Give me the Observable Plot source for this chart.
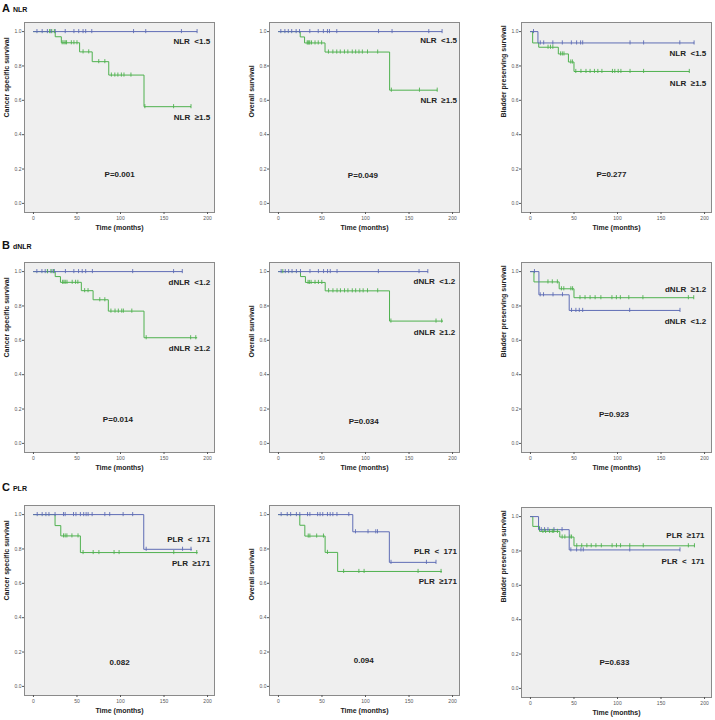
<!DOCTYPE html>
<html><head><meta charset="utf-8">
<script src="https://cdn.jsdelivr.net/npm/d3@7"></script>
<script src="https://cdn.jsdelivr.net/npm/@observablehq/plot@0.6"></script>
<style>
body{margin:0;background:#fff;}
#fig{position:relative;width:715px;height:720px;overflow:hidden;font-family:"Liberation Sans",Arial,sans-serif;}
#fig > svg{position:absolute;}
</style></head><body><div id="fig"></div>
<script>
// ---------- shared ticks / labels ----------
const xTicks = [0, 50, 100, 150, 200];
const yTicks = [0, 0.2, 0.4, 0.6, 0.8, 1.0];
const yTitles = ["Cancer specific survival", "Overall survival", "Bladder preserving survival"];
const xTitle = "Time (months)";
const sectionLetters = ["A", "B", "C"];
const sectionNames = ["NLR", "dNLR", "PLR"];

// ---------- A: NLR ----------
const a1LowT = [0, 188], a1LowS = [1, 1];
const a1LowC = [4, 10, 16, 20, 25, 36.5, 46.5, 52, 57, 60, 67, 115, 129, 170, 188];
const a1HighT = [0, 25, 32, 53, 67.5, 86.5, 127, 181], a1HighS = [1, 0.97, 0.935, 0.882, 0.825, 0.747, 0.563, 0.563];
const a1HighC = [18.5, 21, 24, 33, 35, 36.5, 38, 43.5, 46.5, 50, 57, 63.5, 75, 82, 89.5, 93.5, 97, 101, 104, 112, 128, 161, 181];

const a2LowT = [0, 188], a2LowS = [1, 1];
const a2LowC = [2.7, 7.4, 11.3, 15.2, 20.3, 24.2, 36, 45.7, 51.6, 56.3, 58.6, 67, 115, 130.5, 172.7, 188];
const a2HighT = [0, 25, 30, 53.5, 127.7, 182.4], a2HighS = [1, 0.969, 0.934, 0.881, 0.659, 0.659];
const a2HighC = [33, 34, 35, 36, 38, 42, 45.7, 49.6, 57.4, 62.5, 67, 71, 75.8, 79.7, 84.8, 88.7, 92.5, 96.4, 102.3, 114, 129.7, 162, 182.4];

const a3LowT = [0, 8.6, 188], a3LowS = [1, 0.934, 0.934];
const a3LowC = [3.5, 11.3, 15.2, 25.7, 36.6, 47, 53, 57.6, 60, 114.4, 130, 171.6, 188];
const a3HighT = [0, 2.5, 9.5, 32, 43.6, 50, 182.5], a3HighS = [1, 0.934, 0.909, 0.87, 0.823, 0.768, 0.768];
const a3HighC = [20.2, 23, 25.7, 34.6, 36.6, 38.5, 46.3, 48.2, 52.1, 58, 63.8, 68.5, 73.5, 77.4, 82.1, 94.2, 96.9, 100.8, 103.9, 114.4, 130, 182.5];

// ---------- B: dNLR ----------
const b1LowT = [0, 171], b1LowS = [1, 1];
const b1LowC = [3.9, 9.7, 13.5, 16.2, 21.3, 24, 36.7, 46.4, 51.8, 56, 60, 67.7, 114, 161, 171];
const b1HighT = [0, 25, 31, 55, 68.5, 86, 127, 188], b1HighS = [1, 0.971, 0.9375, 0.889, 0.836, 0.77, 0.615, 0.615];
const b1HighC = [16, 20, 23, 33.5, 35, 36.5, 38.5, 44.5, 48.4, 51, 58.8, 62.7, 76.2, 82, 89, 93.7, 97.5, 101.4, 103.3, 113, 129.5, 180.6, 186.5];

const b2LowT = [0, 171.6], b2LowS = [1, 1];
const b2LowC = [3.1, 7.8, 11.7, 15.6, 20.6, 25.3, 36.2, 45.9, 51.8, 56.4, 59.5, 67.3, 114.8, 161.5, 171.6];
const b2HighT = [0, 25.3, 31, 53.7, 127.6, 189], b2HighS = [1, 0.971, 0.937, 0.888, 0.712, 0.712];
const b2HighC = [5, 34, 35.5, 37.5, 42, 45.9, 49.8, 57.6, 62.6, 67.3, 71.2, 75.9, 79.8, 84.8, 88.7, 93.4, 97.3, 102.3, 114, 129.2, 181, 187.5];

const b3LowT = [0, 9.7, 44.5, 171.8], b3LowS = [1, 0.865, 0.774, 0.774];
const b3LowC = [4.6, 11.2, 15, 25.9, 36.8, 47.2, 52.2, 56.1, 60, 114, 171.8];
const b3HighT = [0, 4, 33, 50, 187.6], b3HighS = [1, 0.94, 0.9, 0.848, 0.848];
const b3HighC = [20.1, 25.1, 30.9, 35.6, 38.3, 46.4, 48.4, 56.9, 62.7, 68.5, 74.3, 80.9, 93.6, 98.7, 103.3, 113, 129.2, 181.4, 187.6];

// ---------- C: PLR ----------
const c1LowT = [0, 126.7, 181.8], c1LowS = [1, 0.798, 0.798];
const c1LowC = [4.3, 10, 14.3, 17.8, 24.8, 34.5, 36.4, 46, 48.8, 53.9, 57.7, 60.5, 62.8, 67.4, 82, 87.6, 103, 114, 129.5, 171.3, 181];
const c1HighT = [0, 24.8, 31.4, 53.9, 188.4], c1HighS = [1, 0.936, 0.876, 0.779, 0.779];
const c1HighC = [34.5, 36.4, 38.4, 44.2, 51.2, 57, 68.6, 75.2, 92.6, 98.4, 161.2, 187.6];

const c2LowT = [0, 85.4, 127.4, 181], c2LowS = [1, 0.9, 0.722, 0.722];
const c2LowC = [3.1, 10.1, 14, 20.6, 24.5, 33.4, 36.1, 45, 47.8, 50.9, 56.3, 59.4, 62.5, 67.2, 80.8, 88.5, 102.9, 111.8, 113.8, 129.3, 170, 181];
const c2HighT = [0, 24.5, 30.3, 53.6, 68, 187.6], c2HighS = [1, 0.938, 0.875, 0.78, 0.669, 0.669];
const c2HighC = [34.2, 36.1, 43.9, 51.7, 56.3, 74.9, 92.4, 98.4, 160.4, 186.8];

const c3LowT = [0, 9.3, 44.5, 171.8], c3LowS = [1, 0.924, 0.806, 0.806];
const c3LowC = [12.4, 16.2, 20.1, 27, 36.3, 46.4, 53, 58, 60.7, 114.1, 171.8];
const c3HighT = [0, 2.7, 10.4, 33.7, 50, 188.4], c3HighS = [1, 0.943, 0.914, 0.881, 0.83, 0.83];
const c3HighC = [14.3, 17.4, 22, 25.1, 26.7, 31, 36.4, 39.5, 45.3, 47.2, 53.2, 58.9, 64.8, 69.8, 75.2, 81.4, 93.8, 98.8, 103.5, 114.1, 129.6, 181.4, 188.4];

// ---------- annotations: [text, x, y] ----------
const a1Labels = [["NLR\u00a0\u00a0<1.5", 203, 0.941], ["NLR\u00a0\u00a0\u22651.5", 203, 0.5]];
const a2Labels = [["NLR\u00a0\u00a0<1.5", 205, 0.947], ["NLR\u00a0\u00a0\u22651.5", 205, 0.6]];
const a3Labels = [["NLR\u00a0\u00a0<1.5", 202, 0.872], ["NLR\u00a0\u00a0\u22651.5", 202, 0.7]];
const b1Labels = [["dNLR\u00a0\u00a0<1.2", 203, 0.935], ["dNLR\u00a0\u00a0\u22651.2", 203, 0.553]];
const b2Labels = [["dNLR\u00a0\u00a0<1.2", 203, 0.94], ["dNLR\u00a0\u00a0\u22651.2", 203, 0.647]];
const b3Labels = [["dNLR\u00a0\u00a0\u22651.2", 202, 0.895], ["dNLR\u00a0\u00a0<1.2", 202, 0.708]];
const c1Labels = [["PLR\u00a0\u00a0<\u00a0\u00a0171", 203, 0.855], ["PLR\u00a0\u00a0\u2265171", 203, 0.715]];
const c2Labels = [["PLR\u00a0\u00a0<\u00a0\u00a0171", 205, 0.785], ["PLR\u00a0\u00a0\u2265171", 205, 0.61]];
const c3Labels = [["PLR\u00a0\u00a0\u2265171", 200, 0.888], ["PLR\u00a0\u00a0<\u00a0\u00a0171", 200, 0.74]];
const pValues = [["P=0.001", 99, 0.17], ["P=0.049", 97, 0.165], ["P=0.277", 93, 0.17],
                 ["P=0.014", 97, 0.14], ["P=0.034", 98, 0.13], ["P=0.923", 96, 0.17],
                 ["0.082", 99, 0.14], ["0.094", 98, 0.15], ["P=0.633", 96.5, 0.15]];

// ---------- layout / style ----------
const BLUE = "#5f6db5", GREEN = "#4fb14f";
const ML = 30, MR = 4, MT = 4, MB = 28, FW = 190, FH = 190;
const colLeft = [24, 269, 521];
const rowTop = [22, 262, 505];
const sectionBaseline = [12, 249, 491];

const panels = [
  {low: [a1LowT, a1LowS, a1LowC], high: [a1HighT, a1HighS, a1HighC], labels: a1Labels},
  {low: [a2LowT, a2LowS, a2LowC], high: [a2HighT, a2HighS, a2HighC], labels: a2Labels},
  {low: [a3LowT, a3LowS, a3LowC], high: [a3HighT, a3HighS, a3HighC], labels: a3Labels},
  {low: [b1LowT, b1LowS, b1LowC], high: [b1HighT, b1HighS, b1HighC], labels: b1Labels},
  {low: [b2LowT, b2LowS, b2LowC], high: [b2HighT, b2HighS, b2HighC], labels: b2Labels},
  {low: [b3LowT, b3LowS, b3LowC], high: [b3HighT, b3HighS, b3HighC], labels: b3Labels},
  {low: [c1LowT, c1LowS, c1LowC], high: [c1HighT, c1HighS, c1HighC], labels: c1Labels},
  {low: [c2LowT, c2LowS, c2LowC], high: [c2HighT, c2HighS, c2HighC], labels: c2Labels},
  {low: [c3LowT, c3LowS, c3LowC], high: [c3HighT, c3HighS, c3HighC], labels: c3Labels}
];

function survAt(times, surv, t) {
  let s = surv[0];
  for (let i = 0; i < times.length; i++) if (times[i] <= t) s = surv[i];
  return s;
}

const fig = document.getElementById("fig");
const font = "Liberation Sans, Arial, sans-serif";

panels.forEach((p, idx) => {
  const row = Math.floor(idx / 3), col = idx % 3;
  const lines = [], cens = [];
  [["low", p.low], ["high", p.high]].forEach(([key, [T, S, C]]) => {
    T.forEach((t, i) => lines.push({x: t, y: S[i], g: key}));
    C.forEach(t => cens.push({x: t, y: survAt(T, S, t), g: key}));
  });
  const labs = p.labels.map(([text, x, y]) => ({text, x, y}));
  const pv = pValues[idx];
  const chart = Plot.plot({
    width: ML + FW + MR, height: MT + FH + MB,
    marginLeft: ML, marginRight: MR, marginTop: MT, marginBottom: MB,
    style: {fontFamily: font, background: "transparent", overflow: "visible"},
    x: {domain: [-10.3, 208]},
    y: {domain: [-0.053, 1.053]},
    color: {type: "ordinal", domain: ["low", "high"], range: [BLUE, GREEN]},
    marks: [
      Plot.frame({fill: "#efefef", stroke: "#8a8a8a"}),
      Plot.axisX({ticks: xTicks, tickSize: 2, tickPadding: 2, fontSize: 5, color: "#555", label: null}),
      Plot.axisY({ticks: yTicks, tickSize: 2, tickPadding: 1, fontSize: 5, color: "#555", tickFormat: d3.format(".1f"), label: null}),
      Plot.line(lines.filter(d => d.g === "high"), {x: "x", y: "y", stroke: "g", curve: "step-after", strokeWidth: 1}),
      Plot.line(lines.filter(d => d.g === "low"), {x: "x", y: "y", stroke: "g", curve: "step-after", strokeWidth: 1}),
      Plot.ruleX(cens, {x: "x", y1: d => d.y - 0.012, y2: d => d.y + 0.012, stroke: "g", strokeWidth: 0.9}),
      Plot.text(labs, {x: "x", y: "y", text: "text", textAnchor: "end", fontWeight: "bold", fontSize: 8, fill: "#222"}),
      Plot.text([pv[0]], {x: () => pv[1], y: () => pv[2], text: d => d, fontWeight: "bold", fontSize: 8, fill: "#222"}),
      Plot.text([yTitles[col]], {frameAnchor: "left", text: d => d, rotate: -90, dx: -18, fontWeight: "bold", fontSize: 7, fill: "#222"}),
      Plot.text([xTitle], {frameAnchor: "bottom", text: d => d, dy: 17, fontWeight: "bold", fontSize: 7, fill: "#222"})
    ]
  });
  chart.style.left = (colLeft[col] - ML) + "px";
  chart.style.top = (rowTop[row] - MT + (idx === 8 ? 2 : 0)) + "px";
  fig.appendChild(chart);
});

// section headers
const ns = "http://www.w3.org/2000/svg";
const hdr = document.createElementNS(ns, "svg");
hdr.setAttribute("width", 715); hdr.setAttribute("height", 720);
hdr.style.left = "0px"; hdr.style.top = "0px"; hdr.style.pointerEvents = "none";
sectionLetters.forEach((L, i) => {
  const t = document.createElementNS(ns, "text");
  t.setAttribute("x", 2); t.setAttribute("y", sectionBaseline[i]);
  t.setAttribute("font-family", font); t.setAttribute("font-weight", "bold");
  t.setAttribute("font-size", 11); t.setAttribute("fill", "#111");
  t.textContent = L;
  const s = document.createElementNS(ns, "tspan");
  s.setAttribute("font-size", 7); s.setAttribute("dx", 3);
  s.textContent = sectionNames[i];
  t.appendChild(s);
  hdr.appendChild(t);
});
fig.appendChild(hdr);
</script>
</body></html>
